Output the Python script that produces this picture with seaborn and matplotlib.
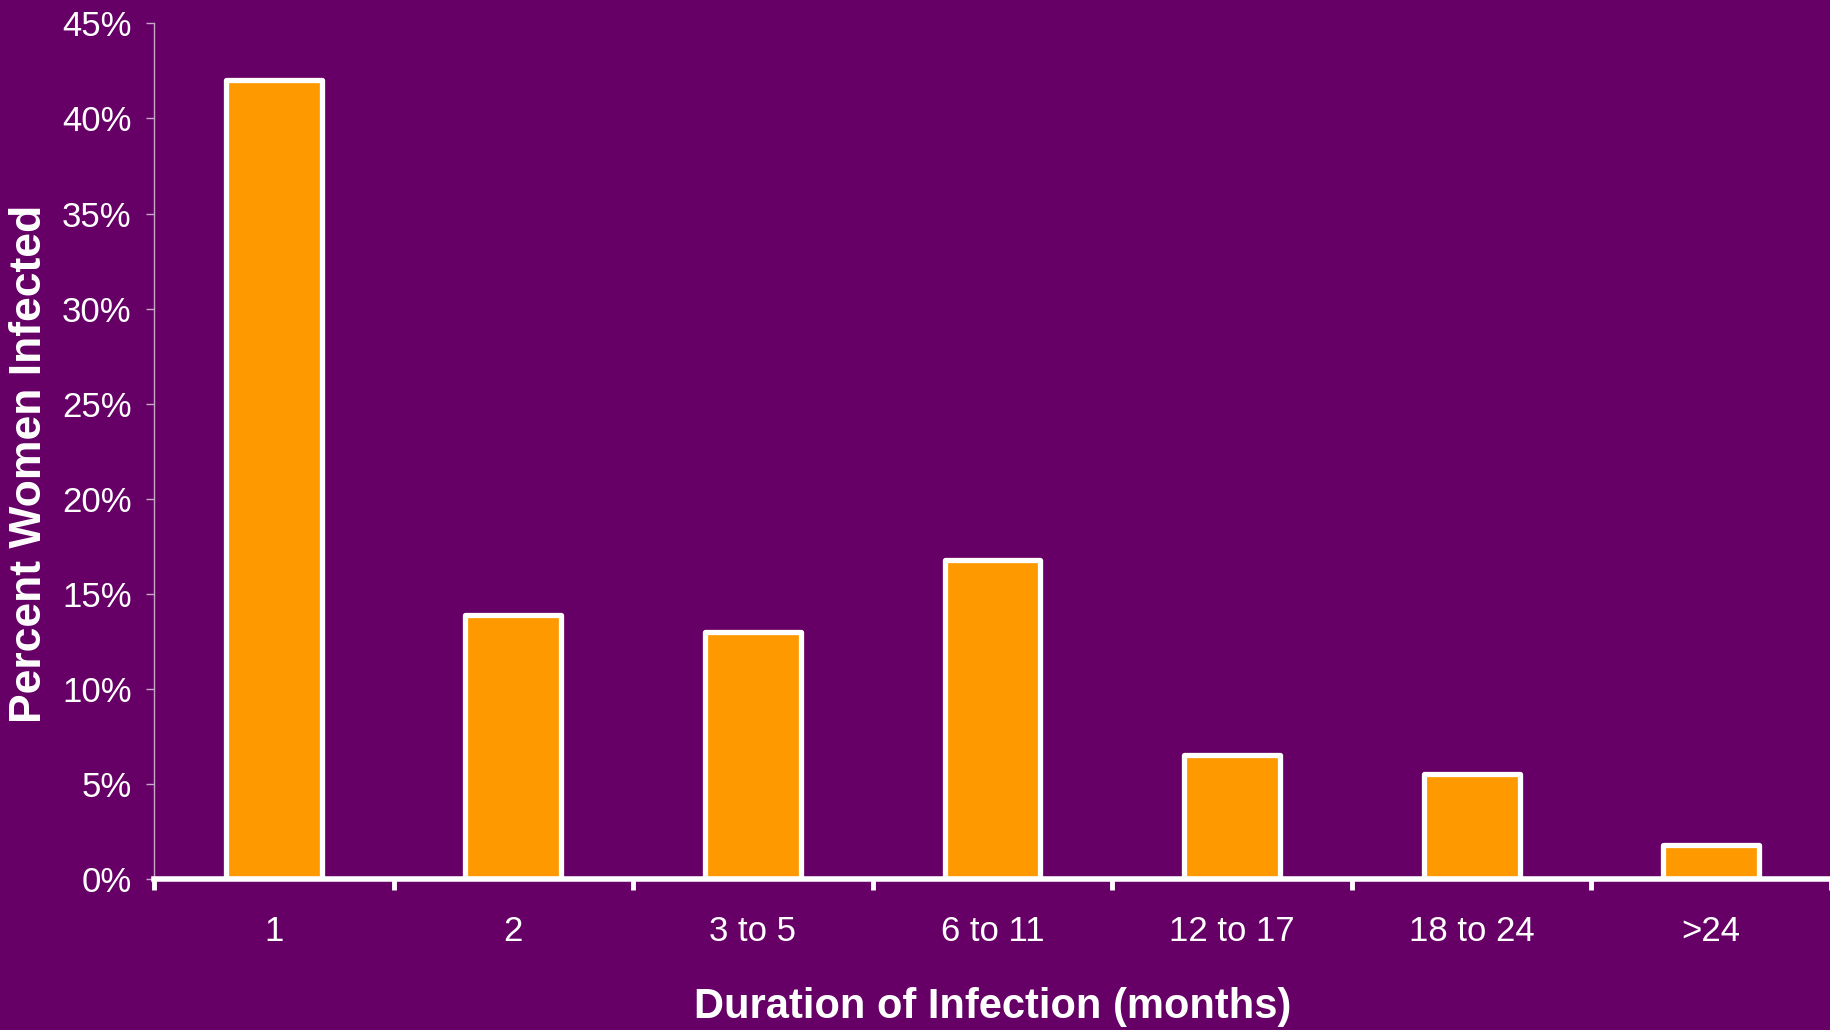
"""Percent of women infected by duration of infection (bar chart on purple)."""

import matplotlib
matplotlib.use("Agg")
import matplotlib.pyplot as plt
import seaborn as sns
import pandas as pd

durations = ["1", "2", "3 to 5", "6 to 11", "12 to 17", "18 to 24", ">24"]
pct_women = [42.0, 13.9, 13.0, 16.8, 6.5, 5.5, 1.8]
y_ticks = [0, 5, 10, 15, 20, 25, 30, 35, 40, 45]

BG = "#660066"
BAR = "#FF9900"

sns.set_style("ticks")
plt.rcParams["font.family"] = ["Liberation Sans", "DejaVu Sans"]

df = pd.DataFrame({"duration": durations, "pct": pct_women})

fig = plt.figure(figsize=(18.31, 10.30), dpi=100, facecolor=BG)
ax = fig.add_axes([154 / 1831, 1 - 879 / 1030, 1 - 154 / 1831, (879 - 23.4) / 1030])
ax.set_facecolor(BG)

sns.barplot(data=df, x="duration", y="pct", order=durations, color=BAR,
            saturation=1, width=0.4, edgecolor="white", linewidth=3.8, ax=ax)
for p in ax.patches:
    p.set_joinstyle("round")

ax.set_xlim(-0.5, len(durations) - 0.5)
ax.set_ylim(0, 45)
ax.set_yticks(y_ticks)
ax.set_yticklabels([f"{t}%" for t in y_ticks])

# category boundary ticks like the original chart
ax.set_xticks([i - 0.5 for i in range(len(durations) + 1)], minor=True)
ax.tick_params(axis="x", which="major", length=0, pad=26, labelsize=25,
               labelcolor="white")
ax.tick_params(axis="x", which="minor", length=8, width=3.5, color="white",
               direction="out")
ax.tick_params(axis="y", which="major", length=6, width=1, color="#C8A8C8",
               pad=10, labelsize=25, labelcolor="white")

for side in ["top", "right"]:
    ax.spines[side].set_visible(False)
ax.spines["left"].set_color("#C8A8C8")
ax.spines["left"].set_linewidth(1)
ax.spines["bottom"].set_color("white")
ax.spines["bottom"].set_linewidth(4)
ax.spines["bottom"].set_zorder(5)

ax.set_xlabel("Duration of Infection (months)", fontsize=30, fontweight="bold",
              color="white")
ax.xaxis.set_label_coords(0.5, -0.1496)
ax.xaxis.label.set_va("center")
ax.set_ylabel("Percent Women Infected", fontsize=32, fontweight="bold",
              color="white")
ax.yaxis.set_label_coords(-0.0745, 0.485)
ax.yaxis.label.set_va("center")

fig.savefig("out.png", dpi=100, facecolor=BG)
plt.close(fig)
